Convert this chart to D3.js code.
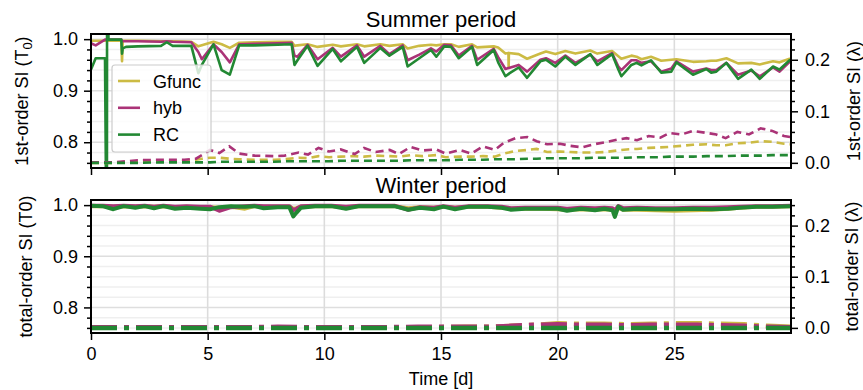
<!DOCTYPE html>
<html>
<head>
<meta charset="utf-8">
<script src="https://cdn.jsdelivr.net/npm/d3@7"></script>
<style>
  body { margin: 0; background: #fff; }
  text { font-family: "Liberation Sans", Arial, sans-serif; }
</style>
</head>
<body>
<svg id="chart" width="863" height="390"></svg>
<script>
// ---- data ----
var seriesNames = ["Gfunc", "hyb", "RC"];
var xTicks = [0, 5, 10, 15, 20, 25];

// summer, 1st-order SI of T0 (left axis)
var summerT = [0, 0.2, 0.6, 0.68, 0.69, 0.75, 1.3, 1.33, 1.36, 1.5, 2, 3, 3.25, 3.5, 4.3, 4.6, 4.75, 5.25, 5.6, 5.95,
  6.35, 7, 8, 8.6, 8.72, 8.85, 9.28, 9.71, 10.36, 10.71, 11.4, 11.71, 12.4, 12.79, 13.36, 13.57, 14.07, 14.57, 14.8, 15.14,
  15.43, 15.76, 16.33, 16.55, 17.26, 17.45, 17.76, 17.89, 17.9, 17.91, 18.33, 18.69, 19.26, 19.5, 19.9, 20.33, 20.76, 21.4, 21.7, 22.33,
  22.6, 22.73, 23.16, 23.38, 23.59, 24.0, 24.44, 24.87, 25.09, 25.8, 26.37, 26.58, 26.8, 27.23, 27.73, 28.3, 28.66, 29.23, 29.51, 29.94, 30];
var summerGfunc = [0.997, 0.997, 0.997, 0.997, 0.997, 0.997, 0.997, 0.957, 0.997, 0.997, 0.997, 0.996, 0.996, 0.996, 0.995, 0.986, 0.988, 0.995, 0.990, 0.983,
  0.993, 0.994, 0.995, 0.995, 0.987, 0.988, 0.990, 0.985, 0.989, 0.986, 0.990, 0.986, 0.990, 0.987, 0.990, 0.982, 0.987, 0.989, 0.988, 0.990,
  0.990, 0.985, 0.990, 0.984, 0.986, 0.984, 0.972, 0.973, 0.944, 0.973, 0.971, 0.962, 0.972, 0.976, 0.971, 0.977, 0.972, 0.978, 0.972, 0.977,
  0.967, 0.962, 0.968, 0.966, 0.961, 0.966, 0.958, 0.960, 0.961, 0.956, 0.957, 0.958, 0.958, 0.963, 0.953, 0.954, 0.951, 0.957, 0.955, 0.962, 0.962];
var summerHyb = [0.992, 0.988, 0.999, 0.999, 0.999, 0.999, 0.999, 0.996, 0.996, 0.996, 0.996, 0.995, 0.996, 0.995, 0.994, 0.975, 0.961, 0.990, 0.975, 0.955,
  0.990, 0.991, 0.992, 0.993, 0.968, 0.966, 0.989, 0.961, 0.983, 0.966, 0.988, 0.966, 0.987, 0.971, 0.988, 0.959, 0.970, 0.982, 0.976, 0.989,
  0.988, 0.968, 0.987, 0.960, 0.981, 0.965, 0.942, 0.944, 0.944, 0.944, 0.950, 0.937, 0.960, 0.963, 0.954, 0.968, 0.954, 0.970, 0.957, 0.973,
  0.947, 0.940, 0.959, 0.959, 0.954, 0.957, 0.937, 0.943, 0.957, 0.937, 0.943, 0.940, 0.940, 0.954, 0.931, 0.939, 0.928, 0.945, 0.937, 0.956, 0.957];
var summerRC = [0.941, 0.963, 0.963, 0.5, 1.2, 0.999, 0.999, 0.972, 0.982, 0.985, 0.986, 0.987, 0.994, 0.987, 0.987, 0.934, 0.950, 0.990, 0.940, 0.931,
  0.988, 0.988, 0.989, 0.990, 0.950, 0.959, 0.987, 0.948, 0.981, 0.957, 0.985, 0.954, 0.983, 0.968, 0.985, 0.947, 0.963, 0.979, 0.966, 0.986,
  0.985, 0.963, 0.985, 0.950, 0.979, 0.955, 0.928, 0.932, 0.932, 0.933, 0.945, 0.925, 0.957, 0.960, 0.947, 0.966, 0.950, 0.971, 0.950, 0.971,
  0.941, 0.928, 0.950, 0.954, 0.949, 0.959, 0.935, 0.937, 0.955, 0.931, 0.942, 0.935, 0.937, 0.954, 0.923, 0.941, 0.923, 0.947, 0.941, 0.959, 0.960];

// summer, 1st-order SI of lambda (right axis, dashed)
var summerLamT = [0, 1, 2, 3, 4, 4.5, 4.75, 5.1, 5.5, 5.93, 6.35, 7, 7.85, 8.3, 8.9, 9.3, 9.75, 10.2, 10.7, 11.3,
  11.7, 12.2, 12.8, 13.2, 13.7, 14.2, 14.8, 15.2, 15.8, 16.3, 16.8, 17.3, 17.7, 18.2, 18.7, 19.1, 19.55, 20.1, 20.55, 21.05,
  21.55, 22.05, 22.55, 22.95, 23.4, 23.9, 24.4, 24.8, 25.3, 25.8, 26.4, 26.8, 27.2, 27.7, 28.2, 28.7, 29.2, 29.7, 30];
var summerLamGfunc = [0.000, 0.000, 0.002, 0.003, 0.004, 0.006, 0.008, 0.010, 0.010, 0.008, 0.007, 0.006, 0.006, 0.007, 0.010, 0.009, 0.013, 0.011, 0.012, 0.013,
  0.012, 0.014, 0.013, 0.012, 0.015, 0.013, 0.015, 0.011, 0.012, 0.012, 0.013, 0.012, 0.018, 0.023, 0.025, 0.027, 0.021, 0.022, 0.021, 0.020,
  0.020, 0.021, 0.024, 0.026, 0.027, 0.029, 0.030, 0.031, 0.033, 0.035, 0.036, 0.034, 0.034, 0.038, 0.039, 0.042, 0.041, 0.037, 0.036];
var summerLamHyb = [0.001, 0.001, 0.005, 0.006, 0.006, 0.008, 0.015, 0.025, 0.019, 0.032, 0.018, 0.014, 0.013, 0.014, 0.020, 0.016, 0.029, 0.022, 0.026, 0.017,
  0.029, 0.021, 0.025, 0.017, 0.031, 0.024, 0.026, 0.018, 0.025, 0.018, 0.032, 0.025, 0.039, 0.048, 0.050, 0.042, 0.036, 0.037, 0.033, 0.030,
  0.036, 0.040, 0.045, 0.048, 0.044, 0.052, 0.049, 0.058, 0.055, 0.062, 0.058, 0.055, 0.048, 0.060, 0.055, 0.067, 0.062, 0.052, 0.050];
var summerLamRC = [0.000, 0.000, 0.000, 0.001, 0.001, 0.001, 0.001, 0.001, 0.002, 0.002, 0.002, 0.002, 0.002, 0.003, 0.003, 0.003, 0.003, 0.003, 0.004, 0.004,
  0.004, 0.004, 0.004, 0.004, 0.005, 0.005, 0.005, 0.005, 0.006, 0.006, 0.006, 0.007, 0.007, 0.007, 0.008, 0.008, 0.009, 0.009, 0.009, 0.009,
  0.010, 0.010, 0.010, 0.010, 0.011, 0.011, 0.011, 0.012, 0.012, 0.012, 0.013, 0.013, 0.013, 0.014, 0.014, 0.014, 0.015, 0.015, 0.015];

// winter, total-order SI of T0 (left axis)
var winterT = [0, 0.5, 0.96, 1.4, 1.9, 2.3, 2.7, 3.1, 3.6, 4.1, 4.7, 5.1, 5.5, 6.0, 6.6, 7.0, 7.4, 8.0, 8.5, 8.67,
  8.8, 9.0, 9.6, 10.3, 10.93, 11.5, 12.3, 13.0, 13.6, 14.1, 14.7, 15.1, 15.6, 16.2, 17.0, 17.6, 18.0, 18.6, 19.3, 20.0,
  20.4, 21.0, 21.6, 22.0, 22.35, 22.45, 22.6, 22.8, 23.4, 24.2, 25.0, 25.8, 26.6, 27.3, 27.8, 28.5, 29.2, 30];
var winterGfunc = [0.998, 0.998, 0.997, 0.998, 0.997, 0.998, 0.997, 0.998, 0.996, 0.997, 0.996, 0.996, 0.995, 0.997, 0.993, 0.998, 0.997, 0.997, 0.997, 0.993,
  0.994, 0.997, 0.998, 0.998, 0.996, 0.998, 0.998, 0.998, 0.994, 0.996, 0.995, 0.997, 0.995, 0.997, 0.997, 0.995, 0.993, 0.993, 0.993, 0.992,
  0.991, 0.992, 0.991, 0.992, 0.991, 0.989, 0.994, 0.991, 0.991, 0.990, 0.989, 0.990, 0.991, 0.993, 0.995, 0.997, 0.997, 0.998];
var winterHyb = [0.999, 0.999, 0.998, 0.999, 0.998, 0.999, 0.997, 0.999, 0.997, 0.998, 0.997, 0.997, 0.989, 0.996, 0.998, 0.999, 0.998, 0.998, 0.998, 0.990,
  0.993, 0.998, 0.999, 0.999, 0.997, 0.999, 0.999, 0.999, 0.991, 0.996, 0.995, 0.998, 0.995, 0.998, 0.998, 0.997, 0.994, 0.995, 0.995, 0.995,
  0.993, 0.995, 0.994, 0.995, 0.994, 0.990, 0.998, 0.994, 0.995, 0.994, 0.994, 0.995, 0.995, 0.996, 0.997, 0.998, 0.998, 0.999];
var winterRC = [0.999, 0.998, 0.992, 0.998, 0.995, 0.998, 0.994, 0.998, 0.993, 0.995, 0.993, 0.992, 0.996, 0.998, 0.997, 0.998, 0.994, 0.996, 0.996, 0.978,
  0.985, 0.995, 0.998, 0.998, 0.993, 0.998, 0.998, 0.998, 0.991, 0.995, 0.992, 0.997, 0.992, 0.997, 0.997, 0.995, 0.991, 0.993, 0.993, 0.993,
  0.989, 0.993, 0.990, 0.993, 0.990, 0.977, 0.997, 0.991, 0.993, 0.992, 0.992, 0.993, 0.992, 0.993, 0.995, 0.997, 0.997, 0.998];

// winter, total-order SI of lambda (right axis, dash-dot)
var winterLamT = [0, 2, 4, 6, 8, 10, 12, 14, 16, 17, 18, 19, 20, 21, 22, 23, 24, 25, 26, 27, 28, 29, 30];
var winterLamGfunc = [0.001, 0.001, 0.001, 0.001, 0.001, 0.001, 0.001, 0.001, 0.002, 0.002, 0.004, 0.006, 0.009, 0.008, 0.008, 0.007, 0.008, 0.009, 0.009, 0.008, 0.007, 0.004, 0.002];
var winterLamHyb = [0.001, 0.001, 0.001, 0.001, 0.002, 0.001, 0.001, 0.002, 0.002, 0.002, 0.004, 0.006, 0.007, 0.006, 0.006, 0.005, 0.006, 0.006, 0.006, 0.005, 0.004, 0.002, 0.001];
var winterLamRC = [0.000, 0.000, 0.000, 0.000, 0.000, 0.000, 0.000, 0.000, 0.000, 0.000, 0.000, 0.000, 0.000, 0.000, 0.000, 0.000, 0.000, 0.000, 0.000, 0.000, 0.000, 0.000, 0.000];

var colors = {Gfunc: "#CCBB44", hyb: "#AA3377", RC: "#228833"};

// ---- layout ----
var svg = d3.select("#chart");
var left = 91, right = 791;
var panels = [
  {top: 34, bottom: 168, title: "Summer period", yLabel: "T", yLabelR: "1st-order SI (\u03bb)",
   t: summerT, solid: [summerGfunc, summerHyb, summerRC],
   tR: summerLamT, dashed: [summerLamGfunc, summerLamHyb, summerLamRC],
   lw: 2.6, lwR: 2.6, dash: "8,5", xLabels: false},
  {top: 200, bottom: 333, title: "Winter period", yLabel: "total-order SI (T0)", yLabelR: "total-order SI (\u03bb)",
   t: winterT, solid: [winterGfunc, winterHyb, winterRC],
   tR: winterLamT, dashed: [winterLamGfunc, winterLamHyb, winterLamRC],
   lw: 4, lwR: 4.5, dash: "26,7,5,7", xLabels: true}
];

var x = d3.scaleLinear().domain([0, 30]).range([left, right]);

function styleAxis(g, fs) {
  g.select(".domain").remove();
  g.selectAll(".tick line").attr("stroke", "#000").attr("stroke-width", 1.5);
  g.selectAll(".tick text").attr("font-size", fs).attr("fill", "#000")
    .style("font-family", '"Liberation Sans", Arial, sans-serif');
}

panels.forEach(function(p, k) {
  var yL = d3.scaleLinear().domain([0.75, 1.01]).range([p.bottom, p.top]);
  var yR = d3.scaleLinear().domain([-0.01, 0.25]).range([p.bottom, p.top]);

  var clipId = "clip" + k;
  svg.append("clipPath").attr("id", clipId).append("rect")
    .attr("x", left).attr("y", p.top).attr("width", right - left).attr("height", p.bottom - p.top);

  var grid = svg.append("g");
  var minor = d3.range(38, 51).map(function(i) { return i / 50; });
  grid.selectAll(".hmin").data(minor).enter().append("line")
    .attr("x1", left).attr("x2", right)
    .attr("y1", function(d) { return yL(d); }).attr("y2", function(d) { return yL(d); })
    .attr("stroke", function(d) { return Math.abs(d * 10 - Math.round(d * 10)) < 1e-6 ? "#dedede" : "#efefef"; })
    .attr("stroke-width", 1.5);
  grid.selectAll(".v").data(xTicks).enter().append("line")
    .attr("x1", function(d) { return x(d); }).attr("x2", function(d) { return x(d); })
    .attr("y1", p.top).attr("y2", p.bottom)
    .attr("stroke", "#dcdcdc").attr("stroke-width", 1.6);

  var plot = svg.append("g").attr("clip-path", "url(#" + clipId + ")");

  seriesNames.forEach(function(name, s) {
    var pts = d3.zip(p.t, p.solid[s]);
    plot.append("path")
      .attr("d", d3.line().x(function(d) { return x(d[0]); }).y(function(d) { return yL(d[1]); })(pts))
      .attr("fill", "none").attr("stroke", colors[name]).attr("stroke-width", p.lw)
      .attr("stroke-linejoin", "round");
  });
  seriesNames.forEach(function(name, s) {
    var pts = d3.zip(p.tR, p.dashed[s]);
    plot.append("path")
      .attr("d", d3.line().x(function(d) { return x(d[0]); }).y(function(d) { return yR(d[1]); })(pts))
      .attr("fill", "none").attr("stroke", colors[name]).attr("stroke-width", p.lwR)
      .attr("stroke-dasharray", p.dash);
  });

  // axes
  var majL = [0.8, 0.9, 1.0];
  var minL = minor.filter(function(d) { return majL.every(function(m) { return Math.abs(m - d) > 1e-6; }); });
  var majR = [0, 0.1, 0.2];
  var minR = d3.range(0, 13).map(function(i) { return i / 50; })
    .filter(function(d) { return majR.every(function(m) { return Math.abs(m - d) > 1e-6; }); });

  svg.append("g").attr("transform", "translate(" + left + ",0)")
    .call(d3.axisLeft(yL).tickValues(minL).tickSize(4).tickFormat(""))
    .call(styleAxis, 18);
  svg.append("g").attr("transform", "translate(" + left + ",0)")
    .call(d3.axisLeft(yL).tickValues(majL).tickSize(7).tickPadding(6).tickFormat(d3.format(".1f")))
    .call(styleAxis, 18);
  svg.append("g").attr("transform", "translate(" + right + ",0)")
    .call(d3.axisRight(yR).tickValues(minR).tickSize(4).tickFormat(""))
    .call(styleAxis, 18);
  svg.append("g").attr("transform", "translate(" + right + ",0)")
    .call(d3.axisRight(yR).tickValues(majR).tickSize(7).tickPadding(7).tickFormat(d3.format(".1f")))
    .call(styleAxis, 18);
  svg.append("g").attr("transform", "translate(0," + p.bottom + ")")
    .call(d3.axisBottom(x).tickValues(xTicks).tickSize(7).tickPadding(7)
      .tickFormat(p.xLabels ? d3.format("d") : ""))
    .call(styleAxis, 18);

  // frame
  svg.append("rect").attr("x", left).attr("y", p.top)
    .attr("width", right - left).attr("height", p.bottom - p.top)
    .attr("fill", "none").attr("stroke", "#000").attr("stroke-width", 2);

  // title
  svg.append("text").attr("x", (left + right) / 2).attr("y", p.top - 7.5)
    .attr("text-anchor", "middle").attr("font-size", 22).text(p.title);

  // y labels
  var cy = (p.top + p.bottom) / 2;
  var lab = svg.append("text")
    .attr("transform", "translate(" + (k === 0 ? 28 : 32) + "," + cy + ") rotate(-90)")
    .attr("text-anchor", "middle").attr("font-size", 18);
  if (k === 0) {
    lab.append("tspan").text("1st-order SI (T");
    lab.append("tspan").attr("font-size", 13).attr("dy", 4).text("0");
    lab.append("tspan").attr("dy", -4).text(")");
  } else {
    lab.text(p.yLabel);
  }
  svg.append("text")
    .attr("transform", "translate(" + (k === 0 ? 860 : 858) + "," + cy + ") rotate(-90)")
    .attr("text-anchor", "middle").attr("font-size", 18).text(p.yLabelR);
});

// x label
svg.append("text").attr("x", (left + right) / 2).attr("y", 385)
  .attr("text-anchor", "middle").attr("font-size", 18).text("Time [d]");

// legend
var leg = svg.append("g");
leg.append("rect").attr("x", 112).attr("y", 65).attr("width", 99).attr("height", 87).attr("rx", 3)
  .attr("fill", "#fff").attr("fill-opacity", 0.8).attr("stroke", "#cccccc").attr("stroke-width", 1.2);
seriesNames.forEach(function(name, i) {
  var yy = 81 + i * 26.8;
  leg.append("line").attr("x1", 118).attr("x2", 140).attr("y1", yy).attr("y2", yy)
    .attr("stroke", colors[name]).attr("stroke-width", 2.6);
  leg.append("text").attr("x", 153).attr("y", yy + 6.5).attr("font-size", 18).text(name);
});
</script>
</body>
</html>
